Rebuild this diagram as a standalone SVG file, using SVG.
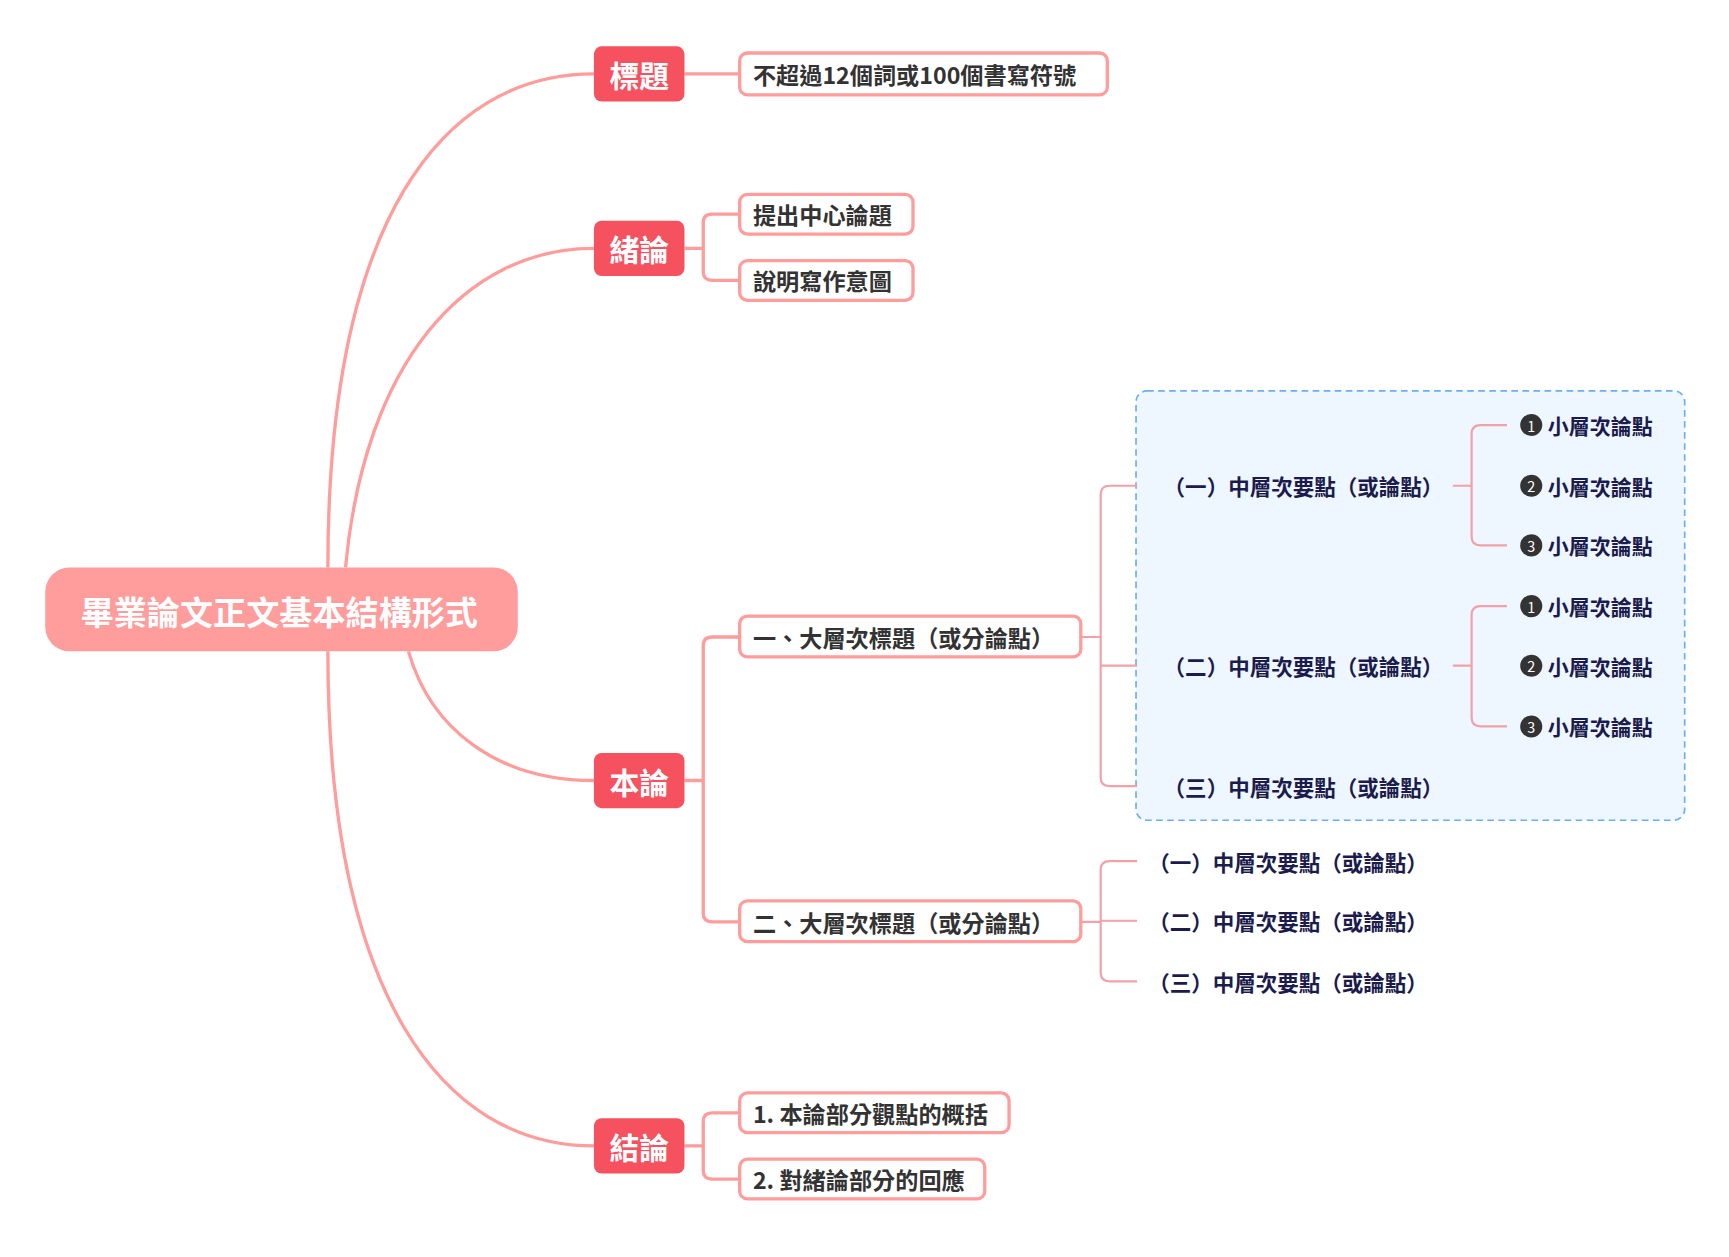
<svg xmlns="http://www.w3.org/2000/svg" width="1729" height="1257" viewBox="0 0 1729 1257">
<style>
text{font-family:"Noto Sans CJK TC","Noto Sans CJK SC",sans-serif;font-weight:bold;dominant-baseline:central}
.c{fill:none;stroke:#ff9c9c;stroke-width:3}
.c2{fill:none;stroke:#f3a1a8;stroke-width:2}
.l1 rect{fill:#f5515f}
.l1 text{fill:#fff;font-size:27px;text-anchor:middle}
.l2 rect{fill:#fff;stroke:#ff9c9c;stroke-width:3}
.l2 text{fill:#333;font-size:21px}
.l3 text{fill:#1c1c4c;font-size:19.5px}
.l4 circle{fill:#333}
.l4 .n{fill:#fff;font-size:13px;font-weight:normal;text-anchor:middle}
.l4 text{fill:#1c1c4c;font-size:19px}
</style>
<rect width="1729" height="1257" fill="#fff"/>
<g transform="scale(1.104)">
<rect x="1029" y="354" width="497" height="389" rx="10" fill="#eef6ff" stroke="#6aaef5" stroke-width="1.5" stroke-dasharray="6 4"/>
<g id="connectors">
<path class="c" d="M297 514 C297 200 400 67 538 67"/>
<path class="c" d="M313 514 C330 330 420 225 538 225"/>
<path class="c" d="M370 590 C390 660 450 707 538 707"/>
<path class="c" d="M297 590 C297 900 400 1038 538 1038"/>
<path class="c" d="M620 67 H670"/>
<path class="c" d="M620 225 H637 M670 194 H645 Q637 194 637 202 V246 Q637 254 645 254 H670"/>
<path class="c" d="M620 707 H637 M670 577 H645 Q637 577 637 585 V827 Q637 835 645 835 H670"/>
<path class="c" d="M620 1038 H637 M670 1008 H645 Q637 1008 637 1016 V1060 Q637 1068 645 1068 H670"/>
<path class="c2" d="M979 577 H997 M1030 440 H1005 Q997 440 997 448 V704 Q997 712 1005 712 H1030 M997 603 H1030"/>
<path class="c2" d="M979 835 H997 M1030 780 H1005 Q997 780 997 788 V881 Q997 889 1005 889 H1030 M997 834 H1030"/>
<path class="c2" d="M1316 440 H1333 M1365 385 H1341 Q1333 385 1333 393 V486 Q1333 494 1341 494 H1365"/>
<path class="c2" d="M1316 603 H1333 M1365 549 H1341 Q1333 549 1333 557 V650 Q1333 658 1341 658 H1365"/>
</g>
<g id="root"><rect x="41" y="514" width="428" height="76" rx="22" fill="#ff9c9c"/><text x="253" y="553" fill="#fff" font-size="30" text-anchor="middle">畢業論文正文基本結構形式</text></g>
<g id="n-title" class="l1"><rect x="538" y="42" width="82" height="50" rx="7"/><text x="579" y="67">標題</text></g>
<g id="n-intro" class="l1"><rect x="538" y="200" width="82" height="50" rx="7"/><text x="579" y="225">緒論</text></g>
<g id="n-body" class="l1"><rect x="538" y="682" width="82" height="50" rx="7"/><text x="579" y="707">本論</text></g>
<g id="n-concl" class="l1"><rect x="538" y="1013" width="82" height="50" rx="7"/><text x="579" y="1038">結論</text></g>
<g id="t1" class="l2"><rect x="670" y="48" width="333" height="38" rx="7"/><text x="682" y="67">不超過12個詞或100個書寫符號</text></g>
<g id="i1" class="l2"><rect x="670" y="176" width="157" height="36" rx="7"/><text x="682" y="194">提出中心論題</text></g>
<g id="i2" class="l2"><rect x="670" y="236" width="157" height="36" rx="7"/><text x="682" y="254">說明寫作意圖</text></g>
<g id="b1" class="l2"><rect x="670" y="558" width="309" height="37" rx="7"/><text x="682" y="577">一、大層次標題（或分論點）</text></g>
<g id="b2" class="l2"><rect x="670" y="816" width="309" height="37" rx="7"/><text x="682" y="835">二、大層次標題（或分論點）</text></g>
<g id="c1" class="l2"><rect x="670" y="990" width="244" height="36" rx="7"/><text x="682" y="1008">1. 本論部分觀點的概括</text></g>
<g id="c2" class="l2"><rect x="670" y="1050" width="222" height="36" rx="7"/><text x="682" y="1068">2. 對緒論部分的回應</text></g>
<g id="b1a" class="l3"><text x="1054" y="440">（一）中層次要點（或論點）</text></g>
<g id="b1b" class="l3"><text x="1054" y="603">（二）中層次要點（或論點）</text></g>
<g id="b1c" class="l3"><text x="1054" y="712">（三）中層次要點（或論點）</text></g>
<g id="b2a" class="l3"><text x="1040" y="780">（一）中層次要點（或論點）</text></g>
<g id="b2b" class="l3"><text x="1040" y="834">（二）中層次要點（或論點）</text></g>
<g id="b2c" class="l3"><text x="1040" y="889">（三）中層次要點（或論點）</text></g>
<g id="s1" class="l4"><circle cx="1387" cy="385" r="10"/><text class="n" x="1387" y="385">1</text><text x="1402" y="385">小層次論點</text></g>
<g id="s2" class="l4"><circle cx="1387" cy="440" r="10"/><text class="n" x="1387" y="440">2</text><text x="1402" y="440">小層次論點</text></g>
<g id="s3" class="l4"><circle cx="1387" cy="494" r="10"/><text class="n" x="1387" y="494">3</text><text x="1402" y="494">小層次論點</text></g>
<g id="s4" class="l4"><circle cx="1387" cy="549" r="10"/><text class="n" x="1387" y="549">1</text><text x="1402" y="549">小層次論點</text></g>
<g id="s5" class="l4"><circle cx="1387" cy="603" r="10"/><text class="n" x="1387" y="603">2</text><text x="1402" y="603">小層次論點</text></g>
<g id="s6" class="l4"><circle cx="1387" cy="658" r="10"/><text class="n" x="1387" y="658">3</text><text x="1402" y="658">小層次論點</text></g>
</g>
</svg>
